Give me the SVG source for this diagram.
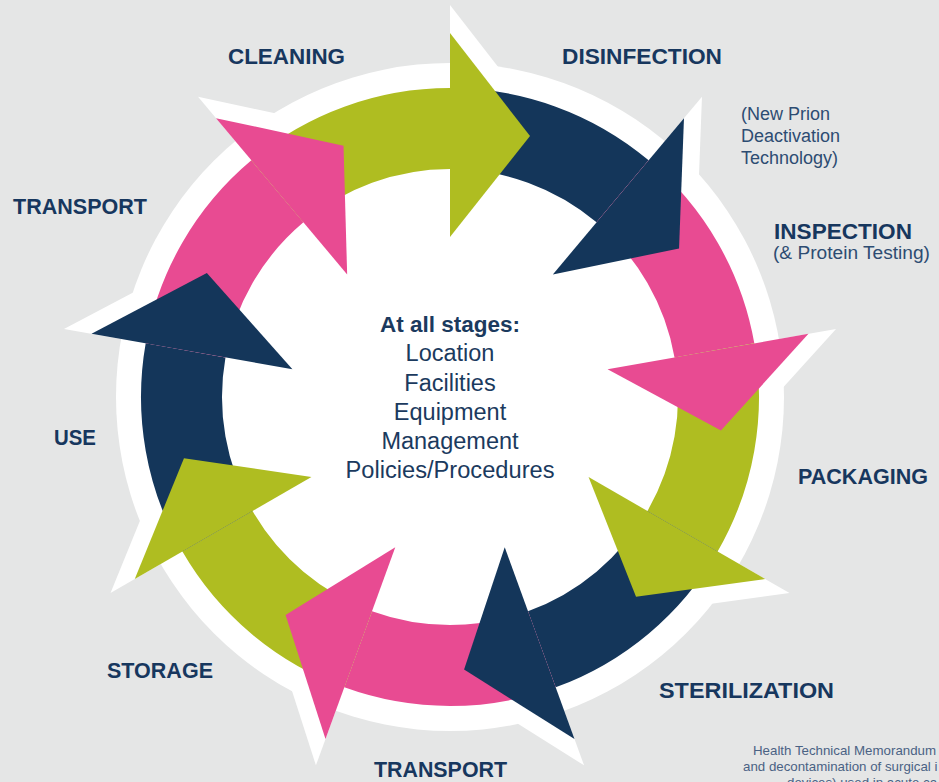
<svg xmlns="http://www.w3.org/2000/svg" width="939" height="782" viewBox="0 0 939 782">
<style>
.lbl{font-family:"Liberation Sans",Arial,sans-serif;font-weight:bold;font-size:22.5px;fill:#17375e}
.sub{font-family:"Liberation Sans",Arial,sans-serif;font-size:18px;fill:#2d4c72}
.ctr{font-family:"Liberation Sans",Arial,sans-serif;font-size:23.5px;fill:#1b3a5e;text-anchor:middle}
.note{font-family:"Liberation Sans",Arial,sans-serif;font-size:13.3px;fill:#4a6284}
.g{fill:#afbd21}.n{fill:#14365a}.p{fill:#e84b92}.w{fill:#ffffff}
</style>
<defs>
<path id="sector" d="M0,-309 A309,309 0 0 1 198.62,-236.71 L146.56,-174.66 A228,228 0 0 0 0,-228 Z"/>
<path id="head" d="M0,-364 L80,-261 L0,-160 Z"/>
<path id="halo" d="M0,-392 L92,-273.5 L0,-250 Z"/>
</defs>
<rect x="0" y="0" width="939" height="782" fill="#e5e6e6"/>
<g id="backdrop" transform="translate(450,397)">
<circle cx="0" cy="0" r="334" class="w"/>
<use href="#halo" class="w" transform="rotate(0)"/>
<use href="#halo" class="w" transform="rotate(40)"/>
<use href="#halo" class="w" transform="rotate(80)"/>
<use href="#halo" class="w" transform="rotate(120)"/>
<use href="#halo" class="w" transform="rotate(160)"/>
<use href="#halo" class="w" transform="rotate(200)"/>
<use href="#halo" class="w" transform="rotate(240)"/>
<use href="#halo" class="w" transform="rotate(280)"/>
<use href="#halo" class="w" transform="rotate(320)"/>
</g>
<g id="connectors" transform="translate(450,397)">
<g id="ring">
<use href="#sector" class="n" transform="rotate(0)"/>
<use href="#sector" class="p" transform="rotate(40)"/>
<use href="#sector" class="g" transform="rotate(80)"/>
<use href="#sector" class="n" transform="rotate(120)"/>
<use href="#sector" class="p" transform="rotate(160)"/>
<use href="#sector" class="g" transform="rotate(200)"/>
<use href="#sector" class="n" transform="rotate(240)"/>
<use href="#sector" class="p" transform="rotate(280)"/>
<use href="#sector" class="g" transform="rotate(320)"/>
</g>
<g id="arrowheads">
<use href="#head" class="g" transform="rotate(0)"/>
<use href="#head" class="n" transform="rotate(40)"/>
<use href="#head" class="p" transform="rotate(80)"/>
<use href="#head" class="g" transform="rotate(120)"/>
<use href="#head" class="n" transform="rotate(160)"/>
<use href="#head" class="p" transform="rotate(200)"/>
<use href="#head" class="g" transform="rotate(240)"/>
<use href="#head" class="n" transform="rotate(280)"/>
<use href="#head" class="p" transform="rotate(320)"/>
</g>
</g>
<g id="cleaning"><text class="lbl" x="228" y="64" textLength="117" lengthAdjust="spacingAndGlyphs">CLEANING</text></g>
<g id="disinfection">
<text class="lbl" x="562" y="64" textLength="160" lengthAdjust="spacingAndGlyphs">DISINFECTION</text>
<text class="sub" x="741" y="120">(New Prion</text>
<text class="sub" x="741" y="142">Deactivation</text>
<text class="sub" x="741" y="164">Technology)</text>
</g>
<g id="inspection">
<text class="lbl" x="774" y="239" textLength="138" lengthAdjust="spacingAndGlyphs">INSPECTION</text>
<text class="sub" x="773" y="259" textLength="157" lengthAdjust="spacingAndGlyphs">(&amp; Protein Testing)</text>
</g>
<g id="packaging"><text class="lbl" x="798" y="484" textLength="130" lengthAdjust="spacingAndGlyphs">PACKAGING</text></g>
<g id="sterilization"><text class="lbl" x="659" y="698" textLength="175" lengthAdjust="spacingAndGlyphs">STERILIZATION</text></g>
<g id="transport-bottom"><text class="lbl" x="374" y="777" textLength="133" lengthAdjust="spacingAndGlyphs">TRANSPORT</text></g>
<g id="storage"><text class="lbl" x="107" y="678" textLength="106" lengthAdjust="spacingAndGlyphs">STORAGE</text></g>
<g id="use"><text class="lbl" x="54" y="445" textLength="42" lengthAdjust="spacingAndGlyphs">USE</text></g>
<g id="transport-left"><text class="lbl" x="13" y="214" textLength="134" lengthAdjust="spacingAndGlyphs">TRANSPORT</text></g>
<g id="center">
<text class="ctr" x="450" y="332" style="font-weight:bold;font-size:22.5px">At all stages:</text>
<text class="ctr" x="450" y="361">Location</text>
<text class="ctr" x="450" y="391">Facilities</text>
<text class="ctr" x="450" y="420">Equipment</text>
<text class="ctr" x="450" y="449">Management</text>
<text class="ctr" x="450" y="478" textLength="209" lengthAdjust="spacingAndGlyphs">Policies/Procedures</text>
</g>
<g id="source-note">
<text class="note" x="753" y="755">Health Technical Memorandum</text>
<text class="note" x="743" y="771">and decontamination of surgical i</text>
<text class="note" x="787" y="787">devices) used in acute ca</text>
</g>
</svg>
